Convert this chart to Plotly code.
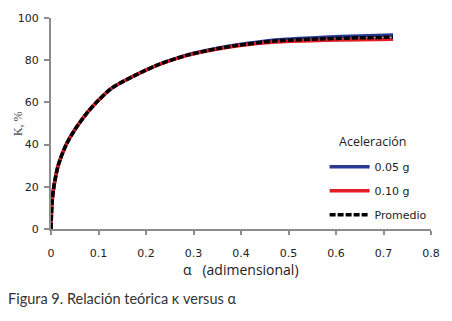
import plotly.graph_objects as go

alpha = [0, 0.002, 0.006, 0.015, 0.032, 0.05, 0.078, 0.10, 0.128, 0.177, 0.225, 0.287, 0.348, 0.39, 0.472, 0.575, 0.65, 0.72]
k_005 = [0, 12, 20, 30, 40, 47, 55.6, 61, 66.8, 72.8, 77.8, 82.5, 85.6, 87.2, 89.6, 90.9, 91.5, 91.9]
k_010 = [0, 12, 20, 30, 40, 47, 55.6, 61, 66.8, 72.8, 77.8, 82.3, 85.2, 86.7, 88.6, 89.4, 89.7, 89.9]
k_prom = [(a + b) / 2 for a, b in zip(k_005, k_010)]

x_ticks = [0, 0.1, 0.2, 0.3, 0.4, 0.5, 0.6, 0.7, 0.8]
x_labels = ["0", "0.1", "0.2", "0.3", "0.4", "0.5", "0.6", "0.7", "0.8"]
y_ticks = [0, 20, 40, 60, 80, 100]

fig = go.Figure()
fig.add_trace(go.Scatter(x=alpha, y=k_005, mode="lines", name="0.05 g", legendgroup="a",
                         line=dict(color="#2B3990", width=3.5, shape="spline", smoothing=0.8)))
fig.add_trace(go.Scatter(x=alpha, y=k_010, mode="lines", name="0.10 g", legendgroup="b",
                         line=dict(color="#E41E26", width=3.5, shape="spline", smoothing=0.8)))
fig.add_trace(go.Scatter(x=alpha, y=k_prom, mode="lines", name="Promedio", legendgroup="c",
                         line=dict(color="#000000", width=3.5, dash="6px,2px", shape="spline", smoothing=0.8)))

axis_common = dict(showgrid=False, zeroline=False, showline=True, linecolor="#8c8c8c", linewidth=2,
                   ticks="outside", tickcolor="#8c8c8c", tickwidth=2,
                   tickfont=dict(family="DejaVu Sans", size=11, color="#222222"))

fig.update_layout(
    width=452, height=321,
    margin=dict(l=51, r=13, t=14, b=92),
    paper_bgcolor="white", plot_bgcolor="white",
    xaxis=dict(range=[0, 0.8], tickvals=x_ticks, ticktext=x_labels, ticklen=4,
               ticklabelstandoff=9, **axis_common),
    yaxis=dict(range=[0, 100], tickvals=y_ticks, ticklen=5, ticklabelstandoff=3, **axis_common),
    showlegend=True,
    legend=dict(x=0.72, y=0.364, xanchor="left", yanchor="top",
                bgcolor="rgba(0,0,0,0)", itemwidth=40, tracegroupgap=5,
                font=dict(family="DejaVu Sans", size=11, color="#222222")),
    annotations=[
        dict(text="Aceleración", xref="paper", yref="paper", x=0.845, y=0.414,
             xanchor="center", yanchor="middle", showarrow=False,
             font=dict(family="Open Sans", size=12.5, color="#222222")),
        dict(text="α   (adimensional)", xref="paper", yref="paper", x=0.5, y=-0.19,
             xanchor="center", yanchor="middle", showarrow=False,
             font=dict(family="Open Sans", size=14, color="#222222")),
        dict(text="K, %", xref="paper", yref="paper", x=-0.088, y=0.5, textangle=-90,
             xanchor="center", yanchor="middle", showarrow=False,
             font=dict(family="Liberation Serif, DejaVu Serif, serif", size=12, color="#444444")),
        dict(text="Figura 9. Relación teórica κ versus α", xref="paper", yref="paper",
             x=-0.118, y=-0.33, xanchor="left", yanchor="middle", showarrow=False,
             font=dict(family="Lato", size=14.5, color="#333333")),
    ],
)

fig.write_html("out.html", config={"displayModeBar": False},
               post_script="document.body.style.margin='0';")
